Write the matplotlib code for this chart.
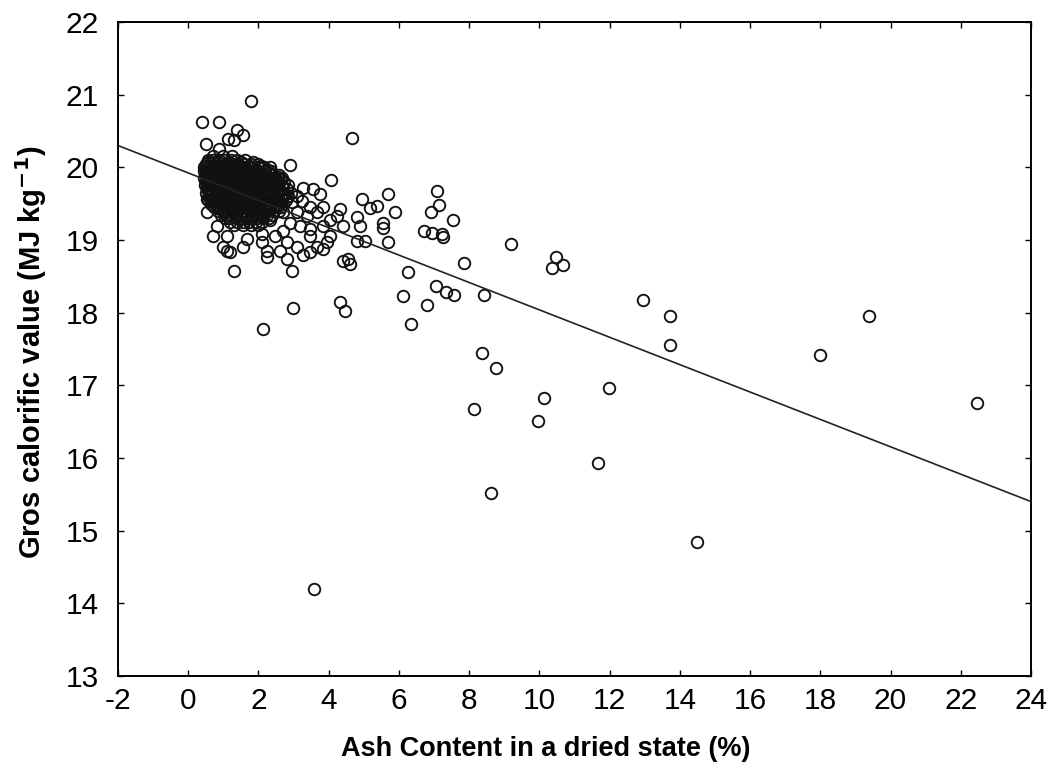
import matplotlib
matplotlib.use("Agg")
import matplotlib.pyplot as plt

plt.rcParams['font.family'] = ['Liberation Sans', 'DejaVu Sans']
plt.rcParams['axes.unicode_minus'] = False

# dense core of the cloud: one list of ash values per calorific level
core_levels = [20.15, 20.10, 20.05, 20.00, 19.95, 19.90, 19.85, 19.80, 19.75, 19.70,
               19.65, 19.60, 19.55, 19.50, 19.45, 19.40, 19.35, 19.30, 19.25, 19.20]
core_ash = [
    [0.72, 0.98, 1.25],
    [0.55, 0.7, 0.88, 1.05, 1.22, 1.4, 1.62],
    [0.5, 0.64, 0.79, 0.93, 1.08, 1.24, 1.4, 1.58, 1.78, 2.0],
    [0.45, 0.6, 0.74, 0.88, 1.02, 1.17, 1.32, 1.47, 1.63, 1.8, 1.98, 2.15],
    [0.46, 0.58, 0.71, 0.85, 0.99, 1.12, 1.26, 1.41, 1.55, 1.7, 1.86, 2.02, 2.18, 2.36],
    [0.5, 0.63, 0.77, 0.9, 1.04, 1.18, 1.31, 1.45, 1.6, 1.75, 1.9, 2.05, 2.22, 2.4, 2.6],
    [0.44, 0.58, 0.72, 0.86, 0.99, 1.13, 1.27, 1.41, 1.55, 1.69, 1.83, 1.98, 2.13, 2.29, 2.46, 2.66],
    [0.5, 0.64, 0.78, 0.92, 1.05, 1.19, 1.33, 1.48, 1.62, 1.77, 1.91, 2.06, 2.21, 2.37, 2.55, 2.74],
    [0.47, 0.61, 0.75, 0.89, 1.02, 1.16, 1.3, 1.44, 1.58, 1.72, 1.86, 2.0, 2.15, 2.31, 2.48, 2.66, 2.85],
    [0.54, 0.68, 0.82, 0.96, 1.1, 1.24, 1.38, 1.52, 1.66, 1.8, 1.95, 2.1, 2.26, 2.42, 2.6, 2.8],
    [0.5, 0.65, 0.79, 0.93, 1.07, 1.2, 1.34, 1.48, 1.62, 1.76, 1.9, 2.05, 2.2, 2.36, 2.53, 2.72, 2.92],
    [0.58, 0.73, 0.87, 1.0, 1.14, 1.28, 1.42, 1.56, 1.7, 1.84, 1.98, 2.13, 2.29, 2.46, 2.64, 2.84],
    [0.55, 0.7, 0.84, 0.98, 1.11, 1.24, 1.37, 1.51, 1.65, 1.79, 1.93, 2.08, 2.24, 2.4, 2.58, 2.78],
    [0.64, 0.79, 0.93, 1.06, 1.2, 1.33, 1.47, 1.61, 1.75, 1.89, 2.03, 2.18, 2.34, 2.52, 2.7],
    [0.74, 0.88, 1.02, 1.15, 1.28, 1.42, 1.56, 1.7, 1.84, 1.98, 2.13, 2.29, 2.46, 2.64],
    [0.84, 0.98, 1.11, 1.24, 1.38, 1.52, 1.66, 1.8, 1.95, 2.1, 2.26, 2.43, 2.6],
    [0.94, 1.08, 1.21, 1.35, 1.49, 1.63, 1.78, 1.93, 2.08, 2.24, 2.4],
    [1.05, 1.2, 1.35, 1.5, 1.65, 1.8, 1.96, 2.12, 2.3],
    [1.18, 1.38, 1.56, 1.74, 1.92, 2.1],
    [1.3, 1.55, 1.8, 2.0],
]

# second, offset layer inside the densest part
inner_levels = [20.07, 20.02, 19.97, 19.92, 19.87, 19.82, 19.77, 19.72, 19.67,
                19.62, 19.57, 19.52, 19.47, 19.42, 19.37]
inner_ash = [
    [0.57, 0.86, 1.15, 1.5],
    [0.52, 0.81, 1.1, 1.4, 1.72, 2.06],
    [0.52, 0.78, 1.06, 1.33, 1.62, 1.94, 2.27],
    [0.56, 0.83, 1.11, 1.38, 1.67, 1.98, 2.31],
    [0.51, 0.79, 1.06, 1.34, 1.62, 1.9, 2.21, 2.55],
    [0.57, 0.85, 1.12, 1.4, 1.69, 1.98, 2.29, 2.64],
    [0.54, 0.82, 1.09, 1.37, 1.65, 1.93, 2.23, 2.57],
    [0.61, 0.89, 1.17, 1.45, 1.73, 2.02, 2.34, 2.7],
    [0.58, 0.86, 1.13, 1.41, 1.69, 1.97, 2.28, 2.62],
    [0.65, 0.93, 1.21, 1.49, 1.77, 2.05, 2.37, 2.74],
    [0.62, 0.91, 1.17, 1.44, 1.72, 2.0, 2.32, 2.68],
    [0.72, 0.99, 1.26, 1.54, 1.82, 2.1, 2.43],
    [0.81, 1.08, 1.35, 1.63, 1.91, 2.21, 2.55],
    [0.91, 1.17, 1.45, 1.73, 2.02, 2.34],
    [1.01, 1.28, 1.56, 1.85, 2.16],
]

# scattered samples around the core
edge_ash = [1.79, 0.40, 0.88, 1.40, 1.57, 1.14, 1.31, 0.51, 0.88, 4.67,
            2.91, 4.07, 3.28, 3.56, 3.76, 4.96, 5.70, 5.38, 5.18, 5.90,
            4.33, 4.81, 4.90, 4.24, 4.42, 4.05, 3.48, 3.39, 3.10, 3.68,
            3.85, 3.19, 2.91, 3.48, 3.85, 4.81, 5.04, 5.56, 5.56, 5.70,
            4.42, 4.62, 4.56, 4.33, 4.47, 2.99, 1.31, 2.14, 2.96, 2.82,
            2.25, 1.68, 1.57, 1.20, 1.11, 1.00, 0.71, 0.83, 0.54, 0.54,
            1.11, 2.11, 2.25, 2.62, 2.82, 2.48, 3.10, 3.28, 3.48, 3.68,
            3.85, 3.96, 4.05, 3.48, 2.71, 2.34, 2.71, 2.54, 2.96, 2.71,
            2.42, 2.54, 2.25, 1.97, 1.85, 2.34, 3.10, 3.25, 2.11]
edge_gcv = [20.91, 20.62, 20.62, 20.51, 20.45, 20.39, 20.37, 20.32, 20.25, 20.40,
            20.03, 19.83, 19.72, 19.70, 19.63, 19.57, 19.63, 19.47, 19.44, 19.38,
            19.42, 19.31, 19.19, 19.33, 19.19, 19.28, 19.46, 19.33, 19.38, 19.38,
            19.46, 19.19, 19.24, 19.15, 19.19, 18.98, 18.98, 19.17, 19.24, 18.97,
            18.71, 18.67, 18.74, 18.14, 18.02, 18.06, 18.57, 17.78, 18.57, 18.74,
            18.76, 19.01, 18.91, 18.83, 18.85, 18.91, 19.05, 19.19, 19.38, 19.56,
            19.05, 18.97, 18.85, 18.85, 18.97, 19.05, 18.91, 18.80, 18.83, 18.91,
            18.87, 18.97, 19.05, 19.05, 19.12, 19.28, 19.38, 19.46, 19.52, 19.60,
            19.65, 19.79, 19.83, 19.88, 20.08, 20.00, 19.60, 19.53, 19.08]

# far samples with higher ash content
far_ash = [7.09, 7.15, 6.92, 7.55, 6.72, 6.95, 7.24, 7.26, 7.86, 6.27,
           7.07, 7.35, 7.58, 6.13, 9.20, 10.46, 10.68, 10.37, 8.43, 12.96,
           6.81, 6.35, 8.38, 8.77, 11.99, 10.14, 8.15, 9.97, 11.68, 8.63,
           13.73, 13.73, 19.40, 18.00, 22.45, 14.50, 3.59]
far_gcv = [19.67, 19.48, 19.39, 19.28, 19.12, 19.09, 19.08, 19.04, 18.69, 18.56,
           18.36, 18.28, 18.24, 18.23, 18.95, 18.76, 18.65, 18.61, 18.24, 18.18,
           18.10, 17.85, 17.44, 17.24, 16.96, 16.82, 16.67, 16.51, 15.93, 15.52,
           17.95, 17.55, 17.95, 17.42, 16.76, 14.85, 14.20]

# linear fit, end points
fit_ash = [-2, 24]
fit_gcv = [20.3, 15.4]

core_x = [a for row in core_ash + inner_ash for a in row]
core_y = [lvl for lvl, row in zip(core_levels + inner_levels, core_ash + inner_ash) for _ in row]
ash = core_x + edge_ash + far_ash
gcv = core_y + edge_gcv + far_gcv

fig = plt.figure(figsize=(10.57, 7.72), dpi=100)
ax = fig.add_axes([0.1116, 0.1244, 0.8638, 0.8471])

ax.plot(ash, gcv, linestyle='none', marker='o', markersize=8.3,
        markerfacecolor='none', markeredgecolor='#111111', markeredgewidth=1.35)
ax.plot(fit_ash, fit_gcv, color='#222222', linewidth=1.2)

ax.set_xlim(-2, 24)
ax.set_ylim(13, 22)
ax.set_xticks(range(-2, 25, 2))
ax.set_yticks(range(13, 23))
ax.tick_params(direction='in', length=4, width=1.0, labelsize=21.5,
               top=True, right=True)
ax.tick_params(axis='y', pad=14)
ax.tick_params(axis='x', pad=8)
for s in ax.spines.values():
    s.set_linewidth(1.4)

ax.set_xlabel('Ash Content in a dried state (%)', fontsize=19.5, fontweight='bold')
ax.xaxis.set_label_coords(0.469, -0.092)
ax.set_ylabel('Gros calorific value (MJ kg$^{\\mathbf{-1}}$)', fontsize=21,
              fontweight='bold')
ax.yaxis.set_label_coords(-0.076, 0.495)

fig.savefig('out.png', dpi=100)
